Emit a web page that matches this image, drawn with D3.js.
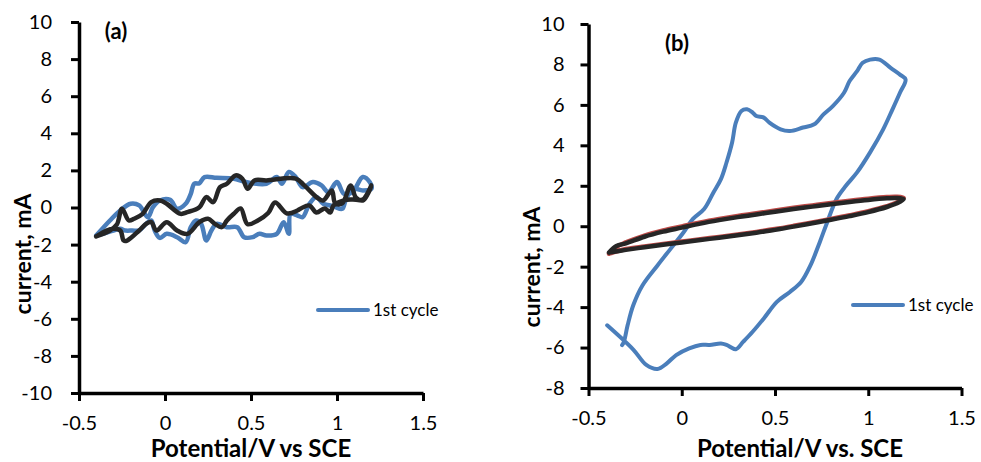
<!DOCTYPE html>
<html>
<head>
<meta charset="utf-8">
<script src="https://cdn.jsdelivr.net/npm/d3@7"></script>
<style>
  body { margin: 0; background: #fff; }
  svg { display: block; }
  text { font-family: Lato, "Open Sans", sans-serif; fill: #000; }
</style>
</head>
<body>
<svg id="chart" width="981" height="462"></svg>
<script>
// panel (a): potential (V) and current (mA)
var potA1 = [-0.40, -0.32, -0.26, -0.20, -0.15, -0.10, -0.07, -0.03, 0.03, 0.07, 0.12, 0.15, 0.17, 0.20, 0.23, 0.30, 0.40, 0.47, 0.59, 0.65, 0.68, 0.72, 0.76, 0.80, 0.86, 0.91, 0.95, 1.00, 1.04, 1.09, 1.15, 1.19, 1.20,
             1.15, 1.09, 1.05, 1.03, 0.99, 0.96, 0.92, 0.88, 0.84, 0.80, 0.77, 0.73, 0.72, 0.69, 0.65, 0.59, 0.55, 0.51, 0.46, 0.42, 0.36, 0.30, 0.27, 0.24, 0.21, 0.18, 0.15, 0.12, 0.07, 0.01, -0.03, -0.06, -0.08, -0.11, -0.15, -0.19, -0.23, -0.26, -0.30, -0.36, -0.40];
var curA1 = [-1.51, -0.70, -0.16, 0.20, 0.11, -0.52, 0.02, 0.38, 0.41, -0.07, 0.20, 0.74, 1.28, 1.31, 1.64, 1.60, 1.55, 1.37, 1.28, 1.64, 1.28, 1.91, 1.64, 1.10, 1.37, 1.19, 0.83, 1.37, 0.74, 0.83, 1.64, 1.37, 1.01,
             0.92, 1.01, 0.38, -0.07, 0.02, 0.11, 0.20, 0.56, 0.20, -0.52, -0.43, -0.34, -1.42, -0.79, -1.42, -1.51, -1.42, -1.60, -1.60, -1.06, -1.06, -0.88, -1.24, -1.78, -0.88, -0.70, -1.06, -1.87, -1.60, -1.42, -1.64, -1.24, -0.70, -0.88, -1.24, -1.24, -1.24, -1.15, -1.24, -1.42, -1.51];

var potA2 = [-0.40, -0.32, -0.28, -0.25, -0.21, -0.18, -0.13, -0.08, -0.03, 0.01, 0.09, 0.13, 0.20, 0.24, 0.28, 0.32, 0.36, 0.41, 0.45, 0.48, 0.52, 0.59, 0.76, 0.81, 0.89, 0.92, 0.97, 0.99, 1.03, 1.08, 1.11, 1.15, 1.18, 1.20,
             1.15, 1.09, 1.04, 0.98, 0.96, 0.93, 0.88, 0.84, 0.79, 0.77, 0.71, 0.64, 0.60, 0.54, 0.48, 0.44, 0.40, 0.36, 0.33, 0.29, 0.25, 0.20, 0.13, 0.07, 0.01, -0.05, -0.08, -0.11, -0.15, -0.22, -0.24, -0.26, -0.30, -0.34, -0.40];
var curA2 = [-1.56, -1.24, -0.92, -0.07, -0.70, -0.61, -0.34, 0.29, 0.38, 0.20, -0.34, -0.25, 0.02, 0.56, 0.29, 1.10, 1.28, 1.73, 1.55, 1.01, 1.46, 1.46, 1.56, 1.19, 0.49, 0.38, 0.92, 0.22, 0.22, 1.19, 0.54, 0.38, 0.75, 1.19,
             0.43, 0.43, 0.38, 0.11, -0.27, -0.05, -0.27, 0.11, -0.05, -0.16, -0.32, 0.27, -0.30, -0.70, -0.90, -0.05, -0.34, -0.70, -1.06, -0.88, -0.61, -0.79, -1.42, -1.24, -0.79, -1.24, -0.79, -0.88, -1.24, -1.78, -1.78, -1.24, -1.15, -1.24, -1.56];

// panel (b)
var potB1 = [-0.40, -0.26, -0.19, -0.13, -0.08, -0.03, 0.04, 0.10, 0.15, 0.21, 0.24, 0.29, 0.33, 0.38, 0.44, 0.51, 0.58, 0.64, 0.69, 0.74, 0.78, 0.83, 0.88, 0.94, 1.01, 1.08, 1.13, 1.17, 1.20,
             1.17, 1.12, 1.06, 1.01, 0.97, 0.94, 0.90, 0.87, 0.81, 0.76, 0.71, 0.65, 0.58, 0.53, 0.47, 0.44, 0.40, 0.38, 0.35, 0.32, 0.29, 0.27, 0.24, 0.21, 0.17, 0.12, 0.06, 0.01, -0.06, -0.13, -0.21, -0.26, -0.29, -0.31, -0.32];
var curB1 = [-4.90, -6.10, -6.86, -7.06, -6.78, -6.37, -6.04, -5.87, -5.87, -5.80, -5.87, -6.08, -5.71, -5.22, -4.56, -3.74, -3.25, -2.76, -1.94, -0.79, 0.20, 1.35, 2.00, 2.66, 3.65, 4.79, 5.78, 6.60, 7.26,
             7.50, 7.83, 8.24, 8.24, 8.08, 7.67, 7.18, 6.60, 5.94, 5.53, 5.04, 4.88, 4.71, 4.79, 5.12, 5.37, 5.45, 5.62, 5.78, 5.70, 5.12, 4.14, 3.15, 2.33, 1.67, 0.85, 0.36, -0.30, -1.12, -1.94, -2.92, -3.91, -4.89, -5.71, -5.88];

var potB2 = [-0.39, -0.35, -0.30, -0.20, -0.10, 0.00, 0.10, 0.20, 0.30, 0.40, 0.50, 0.60, 0.70, 0.80, 0.90, 1.00, 1.10, 1.15, 1.19,
             1.15, 1.10, 1.00, 0.90, 0.80, 0.70, 0.60, 0.50, 0.40, 0.30, 0.20, 0.10, 0.00, -0.10, -0.20, -0.30, -0.39];
var curB2 = [-1.36, -1.02, -0.80, -0.46, -0.21, -0.01, 0.19, 0.36, 0.51, 0.64, 0.78, 0.91, 1.03, 1.15, 1.26, 1.36, 1.44, 1.46, 1.40,
             1.16, 0.99, 0.74, 0.54, 0.36, 0.19, 0.02, -0.14, -0.28, -0.41, -0.53, -0.64, -0.76, -0.88, -1.00, -1.13, -1.36];
var potB3 = potB2;
var curB3 = [-1.30, -0.98, -0.85, -0.52, -0.27, -0.07, 0.13, 0.30, 0.45, 0.58, 0.72, 0.85, 0.97, 1.09, 1.20, 1.30, 1.38, 1.40, 1.34,
             1.12, 0.95, 0.70, 0.50, 0.32, 0.15, -0.02, -0.18, -0.32, -0.45, -0.57, -0.68, -0.80, -0.92, -1.04, -1.17, -1.30];

var xTicks = [-0.5, 0, 0.5, 1, 1.5];
var yTicksA = [-10, -8, -6, -4, -2, 0, 2, 4, 6, 8, 10];
var yTicksB = [-8, -6, -4, -2, 0, 2, 4, 6, 8, 10];
var legendLabel = "1st cycle";

function zip(xs, ys) {
    return xs.map(function(v, i){ return {x: v, y: ys[i]}; });
}

var svg = d3.select("#chart");

function panel(cfg) {
    var g = svg.append("g");

    var xscale = d3.scaleLinear().domain([-0.5, 1.5]).range(cfg.xr);
    var yscale = d3.scaleLinear().domain(cfg.yd).range(cfg.yr);

    var line = d3.line()
        .x(function(d){ return xscale(d.x); })
        .y(function(d){ return yscale(d.y); })
        .curve(d3.curveCatmullRom.alpha(0.5));

    cfg.series.forEach(function(s){
        g.append("path")
            .datum(zip(s.x, s.y))
            .attr("d", line)
            .attr("fill", "none")
            .attr("stroke", s.color)
            .attr("stroke-width", s.w)
            .attr("stroke-linejoin", "round")
            .attr("stroke-linecap", "round");
    });

    // axes
    var ya = g.append("g")
        .attr("transform", "translate(" + cfg.xr[0] + ",0)")
        .call(d3.axisLeft(yscale).tickValues(cfg.yticks).tickSize(8).tickSizeOuter(0)
            .tickPadding(cfg.ypad).tickFormat(function(d){ return String(d); }));
    var xa = g.append("g")
        .attr("transform", "translate(0," + cfg.yr[0] + ")")
        .call(d3.axisBottom(xscale).tickValues(xTicks).tickSize(8).tickSizeOuter(0)
            .tickFormat(function(d){ return String(d); }));

    [ya, xa].forEach(function(a){
        a.select(".domain").attr("stroke", "#000").attr("stroke-width", 3.5);
        a.selectAll(".tick line").attr("stroke", "#000").attr("stroke-width", 3);
        a.selectAll("text").attr("font-family", null).attr("font-size", 20).attr("fill", "#000");
    });
    xa.selectAll("text").attr("y", 37).attr("dy", null);

    // axis titles
    g.append("text")
        .attr("x", cfg.xtx).attr("y", 457)
        .attr("text-anchor", "middle")
        .attr("font-size", 24).attr("font-weight", "bold")
        .text(cfg.xtitle);
    g.append("text")
        .attr("transform", "translate(" + cfg.ytx + "," + cfg.yty + ") rotate(-90)")
        .attr("text-anchor", "middle")
        .attr("font-size", 23).attr("font-weight", "bold")
        .text("current, mA");

    // panel letter
    g.append("text")
        .attr("x", cfg.lab[0]).attr("y", cfg.lab[1])
        .attr("text-anchor", "middle")
        .attr("font-size", 22).attr("font-weight", "bold")
        .text(cfg.label);

    // legend
    g.append("line")
        .attr("x1", cfg.leg[0]).attr("x2", cfg.leg[0] + 50)
        .attr("y1", cfg.leg[1]).attr("y2", cfg.leg[1])
        .attr("stroke", "#4A7EBB").attr("stroke-width", 4)
        .attr("stroke-linecap", "round");
    g.append("text")
        .attr("x", cfg.leg[0] + 55).attr("y", cfg.leg[1] + 6)
        .attr("font-size", 17)
        .text(legendLabel);
}

panel({
    xr: [79, 423], yd: [-10, 10], yr: [393, 22], yticks: yTicksA, ypad: 19,
    xtitle: "Potential/V vs SCE", xtx: 251, ytx: 31, yty: 254,
    label: "(a)", lab: [116, 39], leg: [318, 310],
    series: [
        {x: potA1, y: curA1, color: "#4A7EBB", w: 4.5},
        {x: potA2, y: curA2, color: "#262626", w: 4.5}
    ]
});

panel({
    xr: [588.5, 961.5], yd: [-8, 10], yr: [388, 24], yticks: yTicksB, ypad: 16,
    xtitle: "Potential/V vs. SCE", xtx: 800, ytx: 540, yty: 267,
    label: "(b)", lab: [677, 51], leg: [853, 305],
    series: [
        {x: potB1, y: curB1, color: "#4A7EBB", w: 4},
        {x: potB2, y: curB2, color: "#BE4B48", w: 4.5},
        {x: potB3, y: curB3, color: "#262626", w: 4.5}
    ]
});
</script>
</body>
</html>
